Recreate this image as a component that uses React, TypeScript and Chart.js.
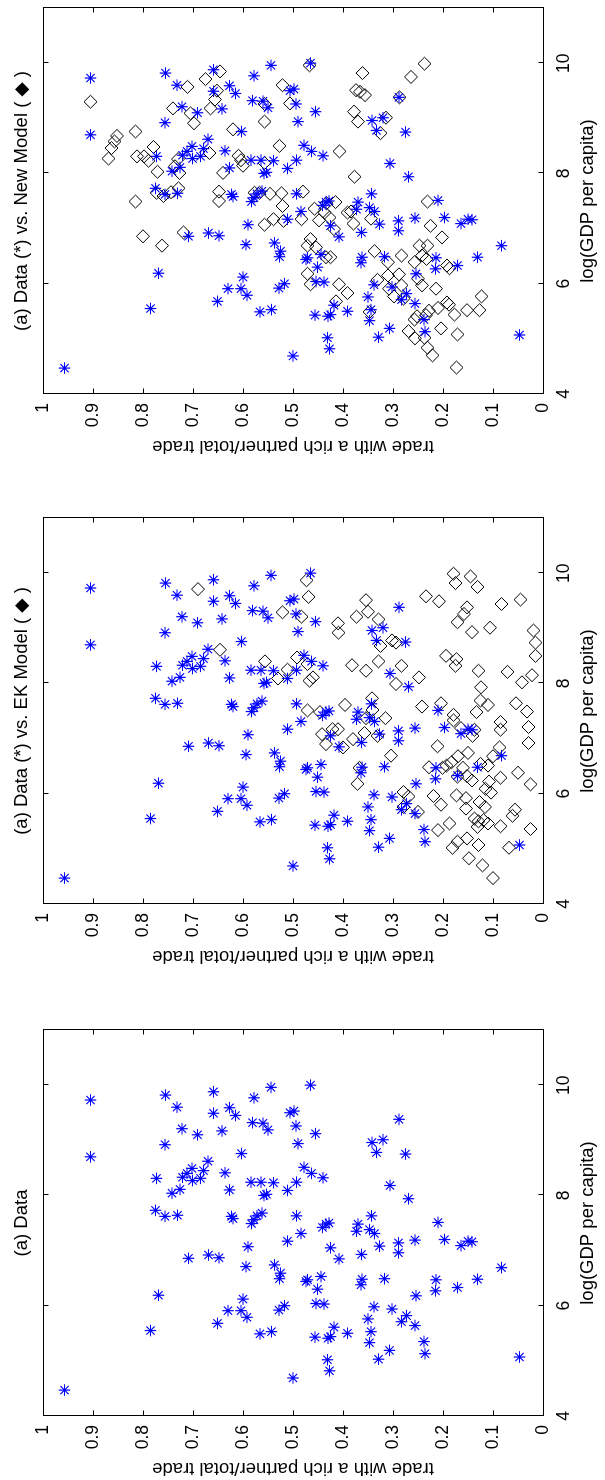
import React, { useEffect, useRef } from 'react';
import { Chart, registerables } from 'chart.js';

Chart.register(...registerables);

// ---------- axes ----------
const xTicks = [4, 6, 8, 10];
const xTickLabels = ['4', '6', '8', '10'];
const yTicks = [0, 0.1, 0.2, 0.3, 0.4, 0.5, 0.6, 0.7, 0.8, 0.9, 1];
const yTickLabels = ['0', '0.1', '0.2', '0.3', '0.4', '0.5', '0.6', '0.7', '0.8', '0.9', '1'];

const panelTitles = [
  '(a) Data',
  '(a) Data (*) vs. EK Model ( \u25C6 )',
  '(a) Data (*) vs. New Model ( \u25C6 )',
];
const xTitle = 'log(GDP per capita)';
const yTitle = 'trade with a rich partner/total trade';

// ---------- data (asterisks) ----------
const dataLogGdp = [
  4.47, 9.73, 8.70, 5.55, 6.19, 7.73, 7.62, 7.64, 8.31, 8.92,
  9.82, 9.60, 9.21, 9.10, 6.86, 8.04, 8.11, 8.33, 8.40, 8.49,
  8.27, 8.31, 8.45, 8.62, 6.92, 6.87, 5.68, 9.88, 9.49, 9.17,
  8.41, 8.10, 9.59, 9.45, 8.76, 7.62, 7.58, 5.91, 5.91, 6.12,
  5.79, 6.71, 7.07, 7.49, 7.56, 7.63, 7.68, 9.32, 9.77, 8.24,
  8.24, 9.31, 9.19, 9.96, 8.23, 8.00, 8.02, 5.49, 5.53, 6.74,
  6.59, 6.49, 5.92, 6.00, 7.17, 8.09, 9.50, 9.53, 9.26, 8.94,
  8.24, 7.63, 7.31, 8.51, 8.40, 10.00, 9.12, 8.32, 4.69, 6.44,
  6.47, 6.04, 6.03, 6.30, 6.53, 5.43, 5.02, 4.82, 5.41, 5.44,
  5.61, 5.50, 7.42, 7.48, 7.50, 7.05, 6.85, 7.48, 7.35, 6.93,
  6.48, 6.38, 7.38, 7.31, 7.63, 8.96, 8.78, 9.01, 7.08, 6.49,
  5.98, 5.76, 5.53, 5.33, 5.03, 5.19, 5.94, 5.71, 5.82, 5.64,
  5.35, 5.13, 7.14, 6.96, 7.19, 6.18, 8.18, 9.38, 8.75, 7.94,
  7.51, 7.20, 6.47, 6.27, 6.33, 7.09, 7.17, 7.16, 6.48, 6.69,
  5.07,
];
const dataShare = [
  0.957, 0.905, 0.905, 0.785, 0.769, 0.775, 0.756, 0.731, 0.773, 0.756,
  0.755, 0.732, 0.722, 0.691, 0.709, 0.742, 0.726, 0.721, 0.712, 0.702,
  0.701, 0.685, 0.679, 0.670, 0.669, 0.648, 0.651, 0.659, 0.659, 0.642,
  0.636, 0.627, 0.627, 0.615, 0.603, 0.623, 0.620, 0.630, 0.604, 0.600,
  0.592, 0.594, 0.590, 0.583, 0.578, 0.572, 0.562, 0.581, 0.578, 0.584,
  0.564, 0.560, 0.550, 0.544, 0.539, 0.558, 0.553, 0.566, 0.543, 0.537,
  0.525, 0.527, 0.528, 0.517, 0.511, 0.511, 0.506, 0.498, 0.494, 0.490,
  0.493, 0.493, 0.484, 0.478, 0.463, 0.465, 0.455, 0.440, 0.500, 0.474,
  0.471, 0.454, 0.438, 0.451, 0.444, 0.456, 0.431, 0.427, 0.430, 0.425,
  0.418, 0.391, 0.441, 0.434, 0.428, 0.425, 0.408, 0.370, 0.373, 0.363,
  0.362, 0.364, 0.347, 0.337, 0.343, 0.342, 0.333, 0.320, 0.327, 0.317,
  0.338, 0.350, 0.344, 0.347, 0.329, 0.307, 0.302, 0.283, 0.273, 0.256,
  0.238, 0.236, 0.289, 0.289, 0.256, 0.254, 0.306, 0.288, 0.275, 0.269,
  0.210, 0.197, 0.214, 0.215, 0.171, 0.164, 0.150, 0.142, 0.131, 0.083,
  0.047,
];

// ---------- EK model (diamonds) ----------
const ekLogGdp = [
  9.71, 8.61, 8.40, 9.29, 8.09, 8.25, 9.21, 9.87, 9.57, 8.47,
  8.35, 8.05, 8.11, 7.51, 7.48, 7.08, 6.90, 7.17, 7.17, 9.09,
  8.92, 7.61, 6.84, 6.99, 8.33, 9.21, 6.18, 9.51, 9.30, 9.16,
  8.23, 7.73, 7.52, 7.37, 7.10, 8.40, 8.68, 7.37, 7.05, 6.69,
  8.78, 8.74, 8.32, 7.99, 8.11, 7.58, 9.58, 9.49, 8.50, 8.44,
  8.32, 9.99, 9.82, 9.94, 9.75, 9.38, 9.26, 9.11, 8.93, 9.01,
  9.44, 9.52, 8.96, 8.74, 8.50, 8.15, 8.02, 8.21, 8.23, 7.93,
  7.69, 7.61, 7.48, 7.16, 7.05, 7.64, 7.49, 7.30, 7.16, 7.21,
  6.92, 6.84, 6.68, 6.51, 6.38, 6.17, 6.29, 6.22, 6.02, 6.09,
  6.54, 6.74, 6.68, 6.57, 6.51, 6.86, 6.48, 6.47, 6.47, 6.32,
  6.31, 6.24, 7.33, 7.43, 7.64, 5.96, 5.80, 5.97, 5.92, 5.73,
  5.85, 5.76, 5.55, 5.50, 5.52, 5.46, 5.40, 5.41, 5.71, 5.60,
  5.36, 5.02, 5.07, 5.19, 5.46, 5.34, 5.02, 5.13, 4.83, 4.70,
  4.47, 5.67, 6.03, 5.95, 5.76, 7.19, 6.47,
];
const ekShare = [
  0.690, 0.646, 0.556, 0.521, 0.530, 0.511, 0.483, 0.473, 0.469, 0.492,
  0.471, 0.467, 0.460, 0.471, 0.446, 0.442, 0.434, 0.421, 0.410, 0.410,
  0.409, 0.396, 0.400, 0.380, 0.382, 0.373, 0.371, 0.354, 0.350, 0.329,
  0.354, 0.342, 0.341, 0.354, 0.357, 0.329, 0.325, 0.315, 0.331, 0.304,
  0.302, 0.294, 0.283, 0.294, 0.248, 0.242, 0.234, 0.208, 0.194, 0.173,
  0.175, 0.179, 0.175, 0.145, 0.131, 0.152, 0.158, 0.171, 0.142, 0.106,
  0.083, 0.045, 0.019, 0.015, 0.015, 0.022, 0.042, 0.071, 0.129, 0.124,
  0.125, 0.110, 0.133, 0.137, 0.141, 0.054, 0.032, 0.085, 0.085, 0.029,
  0.029, 0.087, 0.100, 0.110, 0.050, 0.025, 0.085, 0.108, 0.104, 0.115,
  0.125, 0.150, 0.170, 0.183, 0.193, 0.211, 0.228, 0.201, 0.160, 0.152,
  0.171, 0.142, 0.179, 0.179, 0.204, 0.219, 0.204, 0.173, 0.154, 0.154,
  0.127, 0.116, 0.137, 0.129, 0.119, 0.110, 0.131, 0.085, 0.056, 0.061,
  0.025, 0.068, 0.129, 0.152, 0.187, 0.210, 0.181, 0.171, 0.148, 0.121,
  0.100, 0.250, 0.279, 0.269, 0.279, 0.164, 0.367,
];

// ---------- New model (diamonds) ----------
const newLogGdp = [
  9.30, 8.76, 7.49, 6.86, 6.69, 8.68, 8.58, 8.46, 8.27, 8.31,
  8.31, 8.48, 8.23, 8.03, 7.65, 7.59, 7.66, 7.73, 9.18, 9.57,
  9.09, 8.91, 8.26, 8.13, 8.01, 6.93, 9.71, 8.37, 9.18, 9.50,
  9.34, 9.85, 8.01, 7.67, 7.50, 8.80, 8.32, 8.24, 8.14, 8.94,
  9.26, 8.19, 7.65, 7.65, 7.63, 7.64, 7.41, 9.60, 9.27, 8.50,
  7.07, 7.17, 7.14, 7.67, 7.17, 9.96, 7.36, 6.81, 6.69, 6.66,
  7.15, 7.29, 7.46, 7.48, 7.20, 6.99, 6.48, 6.48, 6.18, 5.99,
  7.29, 7.31, 7.09, 7.94, 8.40, 9.12, 8.94, 9.51, 9.48, 9.42,
  9.82, 7.18, 8.73, 9.01, 9.38, 9.75, 9.99, 7.49, 7.05, 6.84,
  6.59, 6.07, 6.39, 6.51, 6.17, 6.15, 5.91, 5.97, 5.77, 5.73,
  6.39, 6.69, 6.69, 6.51, 6.45, 6.09, 5.97, 5.91, 6.33, 6.28,
  5.66, 5.62, 5.56, 5.51, 5.43, 5.41, 5.35, 5.14, 5.01, 5.02,
  4.84, 4.70, 5.19, 5.44, 5.08, 4.48, 5.52, 5.52, 5.77, 5.49,
  5.99, 5.83, 5.68,
];
const newShare = [
  0.905, 0.815, 0.815, 0.800, 0.762, 0.852, 0.857, 0.863, 0.869, 0.812,
  0.798, 0.779, 0.789, 0.771, 0.773, 0.759, 0.744, 0.729, 0.740, 0.711,
  0.705, 0.698, 0.730, 0.736, 0.727, 0.719, 0.675, 0.667, 0.665, 0.652,
  0.656, 0.646, 0.640, 0.648, 0.648, 0.620, 0.609, 0.604, 0.600, 0.557,
  0.557, 0.557, 0.577, 0.567, 0.546, 0.523, 0.521, 0.521, 0.506, 0.527,
  0.557, 0.539, 0.519, 0.480, 0.483, 0.467, 0.457, 0.465, 0.471, 0.454,
  0.448, 0.437, 0.433, 0.415, 0.427, 0.418, 0.425, 0.434, 0.471, 0.465,
  0.391, 0.384, 0.379, 0.377, 0.407, 0.378, 0.370, 0.374, 0.366, 0.356,
  0.361, 0.344, 0.325, 0.314, 0.287, 0.264, 0.237, 0.231, 0.225, 0.202,
  0.337, 0.331, 0.310, 0.283, 0.288, 0.310, 0.308, 0.283, 0.298, 0.279,
  0.257, 0.247, 0.231, 0.242, 0.233, 0.250, 0.242, 0.214, 0.192, 0.187,
  0.192, 0.188, 0.210, 0.228, 0.234, 0.252, 0.257, 0.269, 0.256, 0.237,
  0.231, 0.221, 0.204, 0.177, 0.171, 0.173, 0.152, 0.127, 0.123, 0.347,
  0.408, 0.391, 0.414,
];

const FONT = "'Liberation Sans', Arial, Helvetica, 'DejaVu Sans', sans-serif";

function toPoints(xs: number[], ys: number[]) {
  return xs.map((x, i) => ({ x, y: ys[i] }));
}

// frame box with inward tick marks on all four sides
const framePlugin = {
  id: 'frameTicks',
  afterDraw(chart: any) {
    const { ctx, chartArea } = chart;
    const xs = chart.scales.x;
    const ys = chart.scales.y;
    const L = Math.round(chartArea.left) + 0.5;
    const R = Math.round(chartArea.right) + 0.5;
    const T = Math.round(chartArea.top) + 0.5;
    const B = Math.round(chartArea.bottom) + 0.5;
    const len = 5;
    ctx.save();
    ctx.strokeStyle = '#000';
    ctx.lineWidth = 1;
    ctx.strokeRect(L, T, R - L, B - T);
    ctx.beginPath();
    xTicks.forEach((v) => {
      const p = Math.round(xs.getPixelForValue(v)) + 0.5;
      ctx.moveTo(p, B);
      ctx.lineTo(p, B - len);
      ctx.moveTo(p, T);
      ctx.lineTo(p, T + len);
    });
    yTicks.forEach((v) => {
      const p = Math.round(ys.getPixelForValue(v)) + 0.5;
      ctx.moveTo(L, p);
      ctx.lineTo(L + len, p);
      ctx.moveTo(R, p);
      ctx.lineTo(R - len, p);
    });
    ctx.stroke();
    ctx.restore();
  },
};

const CW = 458;
const CH = 605;

function Panel(props: { left: number; title: string; mx?: number[]; my?: number[] }) {
  const ref = useRef<HTMLCanvasElement | null>(null);
  useEffect(() => {
    if (!ref.current) return;
    const datasets: any[] = [
      {
        label: 'Data',
        data: toPoints(dataLogGdp, dataShare),
        pointStyle: 'star',
        pointRadius: 5.8,
        borderColor: 'rgb(0,0,255)',
        backgroundColor: 'rgb(0,0,255)',
        borderWidth: 1.2,
        showLine: false,
      },
    ];
    if (props.mx && props.my) {
      datasets.push({
        label: 'Model',
        data: toPoints(props.mx, props.my),
        pointStyle: 'rectRot',
        pointRadius: 6.5,
        borderColor: '#000',
        backgroundColor: 'rgba(0,0,0,0)',
        borderWidth: 1,
        showLine: false,
      });
    }
    const chart = new Chart(ref.current, {
      type: 'scatter',
      data: { datasets },
      plugins: [framePlugin],
      options: {
        responsive: false,
        animation: false,
        devicePixelRatio: 1,
        layout: { padding: { left: 0, right: 8, top: 0, bottom: 0 } },
        plugins: {
          legend: { display: false },
          tooltip: { enabled: false },
          title: {
            display: true,
            text: props.title,
            color: '#000',
            fullSize: false,
            font: { family: FONT, size: 18.5, weight: 'normal' },
            padding: { top: 11, bottom: 9.8 },
          },
        },
        scales: {
          x: {
            type: 'linear',
            position: 'bottom',
            min: 4,
            max: 11,
            afterBuildTicks: (s: any) => {
              s.ticks = xTicks.map((v) => ({ value: v }));
            },
            afterFit: (s: any) => {
              s.height = 62;
            },
            ticks: {
              color: '#000',
              font: { family: FONT, size: 17.5 },
              padding: 10.5,
              maxRotation: 0,
              autoSkip: false,
              callback: (_v: any, i: number) => xTickLabels[i],
            },
            grid: { display: false, drawTicks: false },
            border: { display: false },
            title: {
              display: true,
              text: xTitle,
              color: '#000',
              font: { family: FONT, size: 18.5 },
              padding: { top: 0, bottom: 6 },
            },
          },
          y: {
            type: 'linear',
            position: 'left',
            min: 0,
            max: 1,
            afterBuildTicks: (s: any) => {
              s.ticks = yTicks.map((v) => ({ value: v }));
            },
            afterFit: (s: any) => {
              s.width = 64;
            },
            ticks: {
              color: '#000',
              font: { family: FONT, size: 17.5 },
              padding: 9,
              autoSkip: false,
              callback: (_v: any, i: number) => yTickLabels[i],
            },
            grid: { display: false, drawTicks: false },
            border: { display: false },
            title: {
              display: true,
              text: yTitle,
              color: '#000',
              font: { family: FONT, size: 18.5 },
              padding: { top: 0.6, bottom: 0 },
            },
          },
        },
      } as any,
    });
    return () => chart.destroy();
  }, []);
  return (
    <canvas
      ref={ref}
      width={CW}
      height={CH}
      style={{ position: 'absolute', left: props.left, top: 0, width: CW, height: CH, display: 'block' }}
    />
  );
}

export default function App() {
  return (
    <div
      style={{
        position: 'absolute',
        left: 0,
        top: 0,
        width: 605,
        height: 1480,
        overflow: 'hidden',
        background: '#fff',
      }}
    >
      <div
        style={{
          position: 'absolute',
          left: 0,
          top: 0,
          width: 1480,
          height: 605,
          transformOrigin: '0 0',
          transform: 'translateY(1480px) rotate(-90deg)',
        }}
      >
        <Panel left={0} title={panelTitles[0]} />
        <Panel left={512} title={panelTitles[1]} mx={ekLogGdp} my={ekShare} />
        <Panel left={1022} title={panelTitles[2]} mx={newLogGdp} my={newShare} />
      </div>
    </div>
  );
}
